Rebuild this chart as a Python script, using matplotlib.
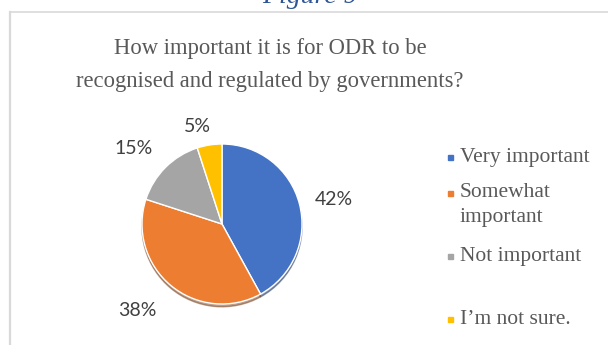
import numpy as np
import matplotlib
matplotlib.use("Agg")
import matplotlib.pyplot as plt
from matplotlib.lines import Line2D
from matplotlib.patches import Rectangle

categories = ["Very important", "Somewhat\nimportant", "Not important", "I\u2019m not sure."]
values = [42, 38, 15, 5]
colors = ["#4472C4", "#ED7D31", "#A5A5A5", "#FFC000"]

W, H = 608, 345
fig = plt.figure(figsize=(W / 100, H / 100), dpi=100)

# frame of the chart area
fig.add_artist(Line2D([10 / W, 10 / W], [0, 1 - 12 / H], color="#d9d9d9", lw=1.6))
fig.add_artist(Line2D([10 / W, 1], [1 - 12 / H, 1 - 12 / H], color="#d9d9d9", lw=1.2))

# caption cut at the top
fig.text(310 / W, 1 - 3 / H, "Figure 9", ha="center", va="baseline", fontsize=20,
         family="Liberation Serif", style="italic", color="#2F5597")

fig.text(270 / W, 1 - 65 / H, "How important it is for ODR to be\nrecognised and regulated by governments?",
         ha="center", va="center", fontsize=16.3, family="Liberation Serif", color="#595959",
         linespacing=1.7)

cx, cy, r = 222, 224, 80
ax = fig.add_axes([(cx - r) / W, (H - cy - r) / H, 2 * r / W, 2 * r / H])
wedges, _ = ax.pie(values, colors=colors, startangle=90, counterclock=False,
                   wedgeprops=dict(edgecolor="white", linewidth=1.0),
                   shadow=dict(ox=0.0, oy=-0.025, shade=0.5))
ax.set_xlim(-1, 1)
ax.set_ylim(-1, 1)
ax.set_aspect("equal")
ax.axis("off")

# percentage labels, distance (in radii) and angle tweak per slice
dist = [1.43, 1.51, 1.45, 1.26]
tweak = [-2, -5, 4.5, 5]
for w, v, d, t in zip(wedges, values, dist, tweak):
    a = np.radians((w.theta1 + w.theta2) / 2 + t)
    ax.text(d * np.cos(a), d * np.sin(a), f"{v}%", ha="center", va="center",
            fontsize=14, family="Lato", color="#404040", clip_on=False)

# legend (multi-line text is anchored on its last baseline)
leg_y = [157, 193, 256, 319]
for lab, col, y in zip(categories, colors, leg_y):
    fig.add_artist(Rectangle((448 / W, (H - y - 2.5) / H), 5 / W, 5 / H,
                             color=col, transform=fig.transFigure))
    base = y + 5 + 24 * lab.count("\n")
    fig.text(460 / W, 1 - base / H, lab, ha="left", va="baseline", fontsize=15.5,
             family="Liberation Serif", color="#595959", linespacing=1.4)

fig.savefig("out.png", dpi=100)
